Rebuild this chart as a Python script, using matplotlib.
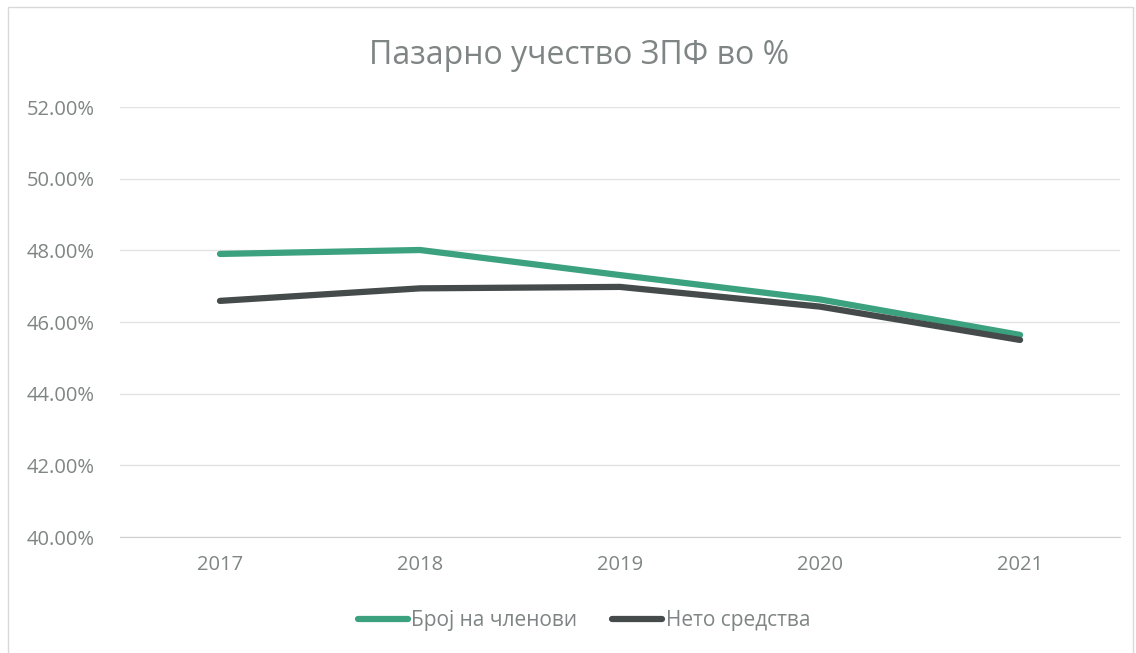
import matplotlib.pyplot as plt
from matplotlib.patches import Rectangle
from matplotlib.ticker import FuncFormatter

years = ['2017', '2018', '2019', '2020', '2021']
members = [47.90, 48.01, 47.31, 46.63, 45.64]
net_assets = [46.59, 46.94, 46.98, 46.43, 45.50]

plt.rcParams['font.family'] = ['Open Sans', 'DejaVu Sans']
text_color = '#7f8584'

fig = plt.figure(figsize=(11.36, 6.53), dpi=100)
ax = fig.add_axes([0.1056, 0.1776, 0.8804, 0.6585])

x = range(len(years))
ax.plot(x, members, color='#3ba17e', linewidth=4.5, solid_capstyle='round',
        label='Број на членови')
ax.plot(x, net_assets, color='#454b4a', linewidth=4.5, solid_capstyle='round',
        label='Нето средства')

ax.set_xlim(-0.5, len(years) - 0.5)
ax.set_ylim(40, 52)
ax.set_yticks([40, 42, 44, 46, 48, 50, 52])
ax.yaxis.set_major_formatter(FuncFormatter(lambda v, p: f'{v:.2f}%'))
ax.set_xticks(list(x))
ax.set_xticklabels(years)

ax.grid(axis='y', color='#e3e3e3', linewidth=1)
ax.set_axisbelow(True)
for s in ['top', 'right', 'left']:
    ax.spines[s].set_visible(False)
ax.spines['bottom'].set_color('#d0d0d0')
ax.tick_params(length=0, labelsize=14.5, colors=text_color)
ax.tick_params(axis='x', pad=13)
ax.tick_params(axis='y', pad=18)

fig.text(0.51, 0.915, 'Пазарно учество ЗПФ во %', ha='center', va='center',
         fontsize=23, color=text_color)

fig.legend(loc='center', bbox_to_anchor=(0.514, 0.05), ncol=2, frameon=False,
           fontsize=15, labelcolor=text_color, handlelength=2.4,
           handletextpad=0.15, columnspacing=1.7)

fig.patches.append(Rectangle((0.007, -0.01), 0.99, 1.0, transform=fig.transFigure,
                             fill=False, edgecolor='#d9d9d9', linewidth=1))

fig.savefig('out.png', dpi=100)
